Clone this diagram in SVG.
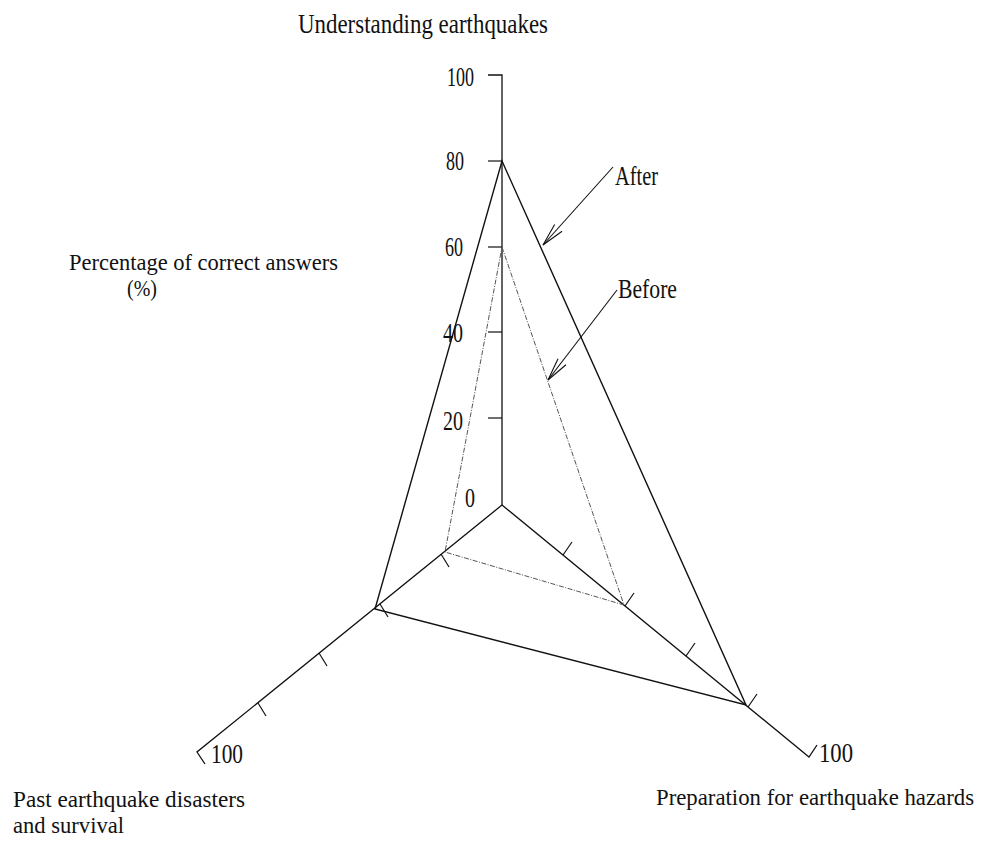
<svg xmlns="http://www.w3.org/2000/svg" width="983" height="850" viewBox="0 0 983 850">
<style>
  text { font-family: "Liberation Serif", "Times New Roman", serif; fill: #111; font-size: 28px; }
  text.sm { font-size: 24px; }
  text.xs { font-size: 22.7px; }
  .axis { stroke: #111; stroke-width: 1.3; fill: none; }
  .tick { stroke: #111; stroke-width: 1.2; fill: none; }
  .after { stroke: #111; stroke-width: 1.4; fill: none; stroke-linejoin: miter; }
  .before { stroke: #555; stroke-width: 1; fill: none; stroke-dasharray: 5 1.5 1 1.5; }
  .arrow { stroke: #111; stroke-width: 1.1; fill: none; marker-end: url(#open); }
</style>
<defs>
  <marker id="open" markerUnits="userSpaceOnUse" markerWidth="30" markerHeight="14" refX="0" refY="0" viewBox="-24 -7 26 14" orient="auto" overflow="visible">
    <path d="M-23,-5 L0,0 L-23,5" fill="none" stroke="#111" stroke-width="1.1"/>
  </marker>
</defs>
<rect width="983" height="850" fill="#fff"/>

<g id="axes">
  <path class="axis" d="M502,505 L502,75 L488,75"/>
  <path class="axis" d="M502,505 L809,757 L817,745"/>
  <path class="axis" d="M502,505 L197,752 L205,764"/>
  <g class="tick">
    <line x1="488" y1="161" x2="502" y2="161"/>
    <line x1="488" y1="247" x2="502" y2="247"/>
    <line x1="488" y1="332" x2="502" y2="332"/>
    <line x1="488" y1="418" x2="502" y2="418"/>
    <line x1="563" y1="555" x2="572" y2="542"/>
    <line x1="625" y1="606" x2="634" y2="593"/>
    <line x1="686" y1="656" x2="695" y2="643"/>
    <line x1="748" y1="707" x2="757" y2="694"/>
    <line x1="441" y1="554" x2="449" y2="567"/>
    <line x1="380" y1="604" x2="388" y2="617"/>
    <line x1="319" y1="653" x2="327" y2="666"/>
    <line x1="258" y1="703" x2="266" y2="716"/>
  </g>
</g>

<g id="series-after">
  <polygon class="after" points="502,161 746,705 375,609"/>
</g>
<g id="series-before">
  <polygon class="before" points="502,247 624,605 445,552"/>
</g>

<g id="connectors">
  <line class="arrow" x1="613" y1="167" x2="543" y2="245"/>
  <line class="arrow" x1="617" y1="290" x2="548" y2="380"/>
</g>

<g id="title-top">
  <text x="298" y="33" textLength="250" lengthAdjust="spacingAndGlyphs">Understanding earthquakes</text>
</g>
<g id="scale-labels">
  <text x="447" y="86" textLength="27" lengthAdjust="spacingAndGlyphs">100</text>
  <text x="446" y="170" textLength="18" lengthAdjust="spacingAndGlyphs">80</text>
  <text x="445" y="256" textLength="18" lengthAdjust="spacingAndGlyphs">60</text>
  <text x="443" y="342" textLength="20" lengthAdjust="spacingAndGlyphs">40</text>
  <text x="443" y="430" textLength="20" lengthAdjust="spacingAndGlyphs">20</text>
  <text x="465" y="507" textLength="10" lengthAdjust="spacingAndGlyphs">0</text>
  <text x="819" y="762" textLength="34" lengthAdjust="spacingAndGlyphs">100</text>
  <text x="211" y="763" textLength="32" lengthAdjust="spacingAndGlyphs">100</text>
</g>
<g id="label-after">
  <text x="615" y="185" textLength="43" lengthAdjust="spacingAndGlyphs">After</text>
</g>
<g id="label-before">
  <text x="618" y="298" textLength="59" lengthAdjust="spacingAndGlyphs">Before</text>
</g>
<g id="y-title">
  <text class="sm" x="69" y="270" textLength="269" lengthAdjust="spacingAndGlyphs">Percentage of correct answers</text>
  <text class="sm" x="127" y="296" textLength="30" lengthAdjust="spacingAndGlyphs">(%)</text>
</g>
<g id="title-left">
  <text class="sm" x="13" y="807" textLength="232" lengthAdjust="spacingAndGlyphs">Past earthquake disasters</text>
  <text class="sm" x="13" y="833" textLength="111" lengthAdjust="spacingAndGlyphs">and survival</text>
</g>
<g id="title-right">
  <text class="xs" x="656" y="805" textLength="318" lengthAdjust="spacingAndGlyphs">Preparation for earthquake hazards</text>
</g>
</svg>
